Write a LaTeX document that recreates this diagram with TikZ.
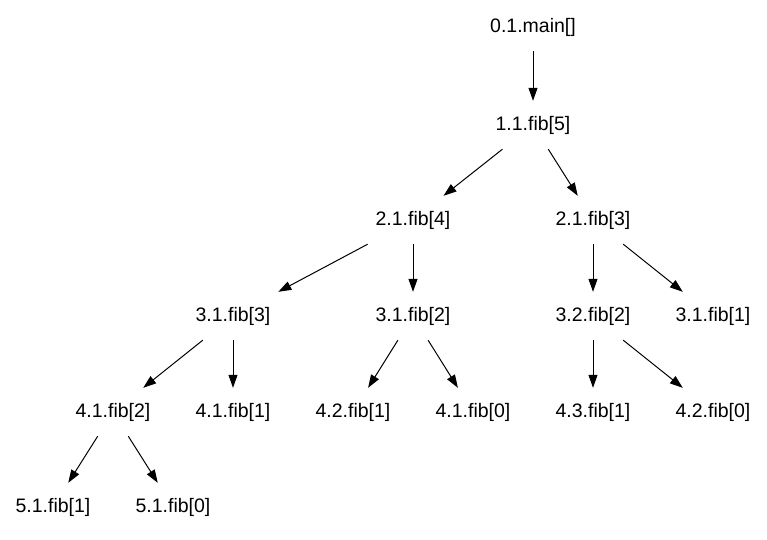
\documentclass[tikz,border=0pt]{standalone}
\usepackage{fontspec}
\setmainfont{Liberation Sans}
\usetikzlibrary{positioning,arrows.meta}

\tikzset{
  call/.style={rectangle, minimum width=110pt, minimum height=48pt, inner sep=0pt,
    font=\fontsize{19.5}{22}\selectfont},
  edge/.style={line width=1pt, -{Triangle[length=13pt, width=9pt]}}
}

\begin{document}
\begin{tikzpicture}[x=1pt, y=-1pt]
  \useasboundingbox (0, 0) rectangle (767, 539);

  \node[call] (main) at (533, 27) {0.1.main[]};
  \node[call] (f5) at (533, 125) {1.1.fib[5]};
  \node[call] (f4) at (413, 220) {2.1.fib[4]};
  \node[call] (f3) at (593, 220) {2.1.fib[3]};
  \node[call] (f4f3) at (233, 316) {3.1.fib[3]};
  \node[call] (f4f2) at (413, 316) {3.1.fib[2]};
  \node[call] (f3f2) at (593, 316) {3.2.fib[2]};
  \node[call] (f3f1) at (713, 316) {3.1.fib[1]};
  \node[call] (a2) at (113, 412) {4.1.fib[2]};
  \node[call] (a1) at (233, 412) {4.1.fib[1]};
  \node[call] (b1) at (353, 412) {4.2.fib[1]};
  \node[call] (b0) at (473, 412) {4.1.fib[0]};
  \node[call] (c1) at (593, 412) {4.3.fib[1]};
  \node[call] (c0) at (713, 412) {4.2.fib[0]};
  \node[call] (d1) at (53, 507) {5.1.fib[1]};
  \node[call] (d0) at (173, 507) {5.1.fib[0]};

  \draw[edge] (main) -- (f5);
  \draw[edge] (f5) -- (f4);
  \draw[edge] (f5) -- (f3);
  \draw[edge] (f4) -- (f4f3);
  \draw[edge] (f4) -- (f4f2);
  \draw[edge] (f3) -- (f3f2);
  \draw[edge] (f3) -- (f3f1);
  \draw[edge] (f4f3) -- (a2);
  \draw[edge] (f4f3) -- (a1);
  \draw[edge] (f4f2) -- (b1);
  \draw[edge] (f4f2) -- (b0);
  \draw[edge] (f3f2) -- (c1);
  \draw[edge] (f3f2) -- (c0);
  \draw[edge] (a2) -- (d1);
  \draw[edge] (a2) -- (d0);
\end{tikzpicture}
\end{document}
